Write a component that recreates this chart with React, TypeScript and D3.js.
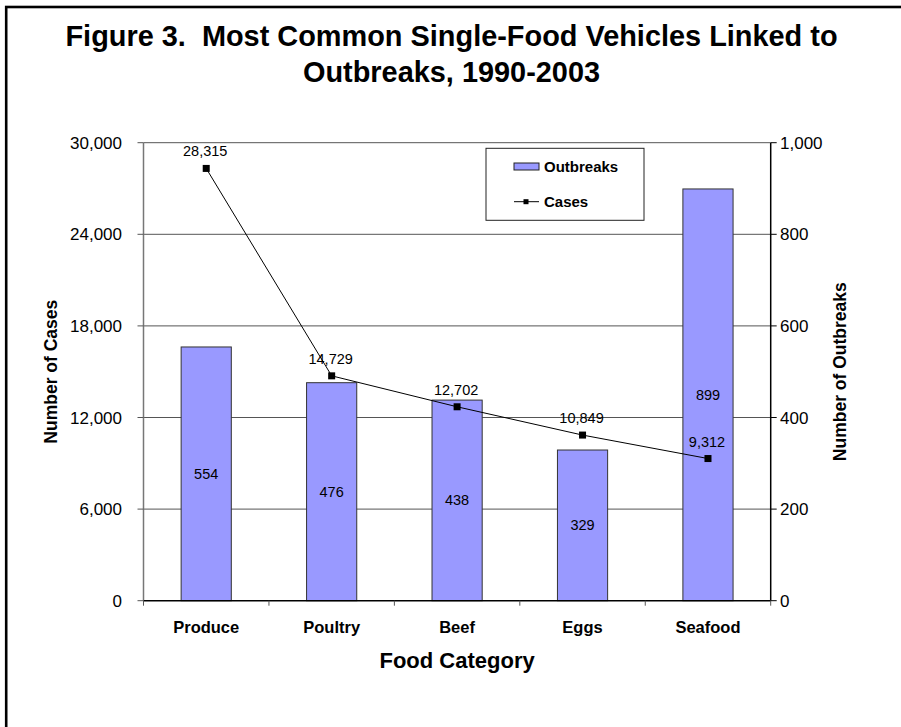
import React from "react";
import * as d3 from "d3";

const categories = ["Produce", "Poultry", "Beef", "Eggs", "Seafood"];
const outbreaks = [554, 476, 438, 329, 899];
const cases = [28315, 14729, 12702, 10849, 9312];
const caseTicks = [0, 6000, 12000, 18000, 24000, 30000];
const outbreakTicks = [0, 200, 400, 600, 800, 1000];
const titleLines = ["Figure 3.  Most Common Single-Food Vehicles Linked to", "Outbreaks, 1990-2003"];

const W = 901;
const H = 727;
const left = 143.5;
const right = 770.7;
const top = 142.7;
const bottom = 600.7;
const FONT = "Arial, 'Liberation Sans', Helvetica, sans-serif";
const BAR = "#9999FF";

export default function App() {
  const x = d3.scaleBand<string>().domain(categories).range([left, right]).paddingInner(0).paddingOuter(0);
  const yC = d3.scaleLinear().domain([0, 30000]).range([bottom, top]);
  const yO = d3.scaleLinear().domain([0, 1000]).range([bottom, top]);
  const fmt = d3.format(",");
  const bw = x.bandwidth() * 0.4;
  const cx = (c: string) => (x(c) as number) + x.bandwidth() / 2;
  const line = d3
    .line<number>()
    .x((_, i) => cx(categories[i]))
    .y((d) => yC(d));
  const boundaries = [...categories.map((c) => x(c) as number), right];

  return (
    <svg width={W} height={H} style={{ position: "absolute", left: 0, top: 0, background: "#fff" }} fontFamily={FONT}>
      <rect x={0} y={0} width={W} height={H} fill="#fff" />
      <rect x={6.2} y={7} width={W + 10} height={H + 10} fill="none" stroke="#000" strokeWidth={2.6} />
      {titleLines.map((t, i) => (
        <text key={i} x={451.5} y={46 + i * 36} textAnchor="middle" fontSize={28.9} fontWeight="bold" style={{ whiteSpace: "pre" }}>
          {t}
        </text>
      ))}
      {/* gridlines */}
      {caseTicks.slice(1).map((t) => (
        <line key={"g" + t} x1={left} x2={right} y1={yC(t)} y2={yC(t)} stroke="#555" strokeWidth={1} />
      ))}
      {/* bars */}
      {categories.map((c, i) => (
        <rect
          key={"b" + c}
          x={cx(c) - bw / 2}
          y={yO(outbreaks[i])}
          width={bw}
          height={bottom - yO(outbreaks[i])}
          fill={BAR}
          stroke="#333"
          strokeWidth={1}
        />
      ))}
      {categories.map((c, i) => (
        <text key={"ol" + c} x={cx(c)} y={(yO(outbreaks[i]) + bottom) / 2 + 5} textAnchor="middle" fontSize={14.5}>
          {outbreaks[i]}
        </text>
      ))}
      {/* axes */}
      <line x1={left} x2={left} y1={top} y2={bottom} stroke="#777" strokeWidth={1.5} />
      <line x1={right} x2={right} y1={top} y2={bottom} stroke="#000" strokeWidth={1.5} />
      <line x1={left} x2={right} y1={bottom} y2={bottom} stroke="#000" strokeWidth={1.5} />
      {caseTicks.map((t) => (
        <g key={"lt" + t}>
          <line x1={left - 6} x2={left} y1={yC(t)} y2={yC(t)} stroke="#555" strokeWidth={1} />
          <text x={122} y={yC(t) + 6} textAnchor="end" fontSize={17}>
            {fmt(t)}
          </text>
        </g>
      ))}
      {outbreakTicks.map((t) => (
        <g key={"rt" + t}>
          <line x1={right} x2={right + 6} y1={yO(t)} y2={yO(t)} stroke="#000" strokeWidth={1} />
          <text x={780} y={yO(t) + 6} textAnchor="start" fontSize={17}>
            {fmt(t)}
          </text>
        </g>
      ))}
      {boundaries.map((b, i) => (
        <line key={"xt" + i} x1={b} x2={b} y1={bottom} y2={bottom + 5} stroke="#555" strokeWidth={1} />
      ))}
      {categories.map((c) => (
        <text key={"cl" + c} x={cx(c)} y={633} textAnchor="middle" fontSize={16.5} fontWeight="bold">
          {c}
        </text>
      ))}
      <text x={(left + right) / 2} y={668} textAnchor="middle" fontSize={22} fontWeight="bold">
        Food Category
      </text>
      <text transform={`translate(56.5, ${(top + bottom) / 2}) rotate(-90)`} textAnchor="middle" fontSize={17.5} fontWeight="bold">
        Number of Cases
      </text>
      <text transform={`translate(846, ${(top + bottom) / 2}) rotate(-90)`} textAnchor="middle" fontSize={17.5} fontWeight="bold">
        Number of Outbreaks
      </text>
      {/* cases line */}
      <path d={line(cases) || ""} fill="none" stroke="#000" strokeWidth={1} />
      {categories.map((c, i) => (
        <rect key={"m" + c} x={cx(c) - 3.5} y={yC(cases[i]) - 3.5} width={7} height={7} fill="#000" />
      ))}
      {categories.map((c, i) => (
        <text key={"cv" + c} x={cx(c) - 1} y={yC(cases[i]) - 12} textAnchor="middle" fontSize={14.5}>
          {fmt(cases[i])}
        </text>
      ))}
      {/* legend */}
      <rect x={486} y={148.3} width={158} height={72} fill="#fff" stroke="#222" strokeWidth={1} />
      <rect x={514} y={163} width={25} height={7} fill={BAR} stroke="#222" strokeWidth={1} />
      <text x={544} y={172} fontSize={15} fontWeight="bold">
        Outbreaks
      </text>
      <line x1={514} x2={539} y1={201.7} y2={201.7} stroke="#000" strokeWidth={1} />
      <rect x={523.5} y={199.2} width={5} height={5} fill="#000" />
      <text x={544} y={207} fontSize={15} fontWeight="bold">
        Cases
      </text>
    </svg>
  );
}
